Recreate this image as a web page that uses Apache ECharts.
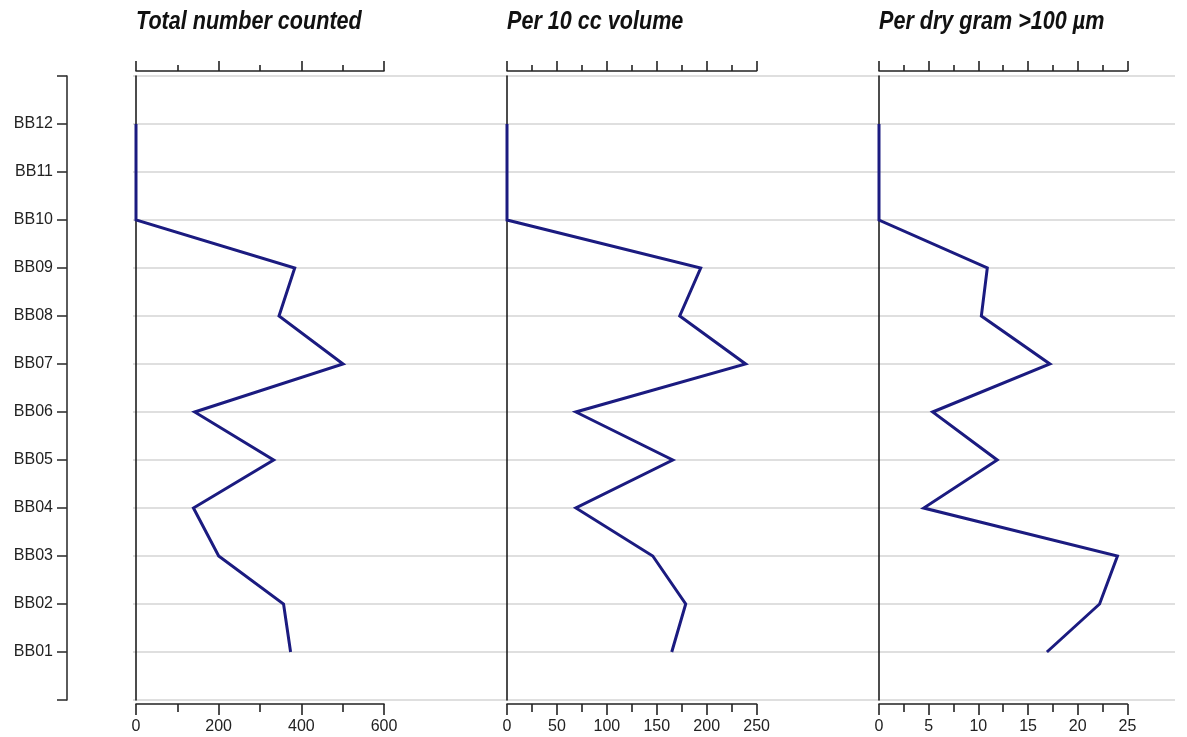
<!DOCTYPE html>
<html>
<head>
<meta charset="utf-8">
<script src="https://cdn.jsdelivr.net/npm/echarts@6/dist/echarts.min.js"></script>
<style>
  html, body { margin: 0; padding: 0; background: #fff; }
  #chart { width: 1187px; height: 737px; }
</style>
</head>
<body>
<div id="chart"></div>
<script>
// Samples (bottom to top)
const samples = ['BB01','BB02','BB03','BB04','BB05','BB06','BB07','BB08','BB09','BB10','BB11','BB12'];
// Panel titles
const titles = ['Total number counted', 'Per 10 cc volume', 'Per dry gram >100 \u00b5m'];
// Series values, BB01..BB12
const totalCounted = [374, 357, 200, 139, 333, 142, 501, 346, 384, 0, 0, 0];
const per10cc      = [165, 179, 146, 69, 166, 69, 239, 173, 194, 0, 0, 0];
const perDryGram   = [16.9, 22.2, 24.0, 4.5, 11.9, 5.4, 17.2, 10.3, 10.9, 0, 0, 0];
// Axis scales
const axisMax      = [600, 250, 25];
const axisInterval = [200, 50, 5];

const cats = [''].concat(samples).concat(['']);
const values = [totalCounted, per10cc, perDryGram];

const TOP = 76, H = 624;
const panelLeft = [136, 507, 879];
const panelWidth = [248, 249.6, 248.4];
const FONT = "'Liberation Sans', Arial, sans-serif";
const lineColor = '#1b1b80';

const grids = [{ left: 133, right: 12, top: TOP, height: H }];
panelLeft.forEach((l, i) => grids.push({ left: l, width: panelWidth[i], top: TOP, height: H }));

const xAxes = [{ gridIndex: 0, type: 'value', show: false, min: 0, max: 1 }];
const yAxes = [{
  gridIndex: 0, type: 'category', data: cats, boundaryGap: false, position: 'left', offset: 66,
  axisLine: { show: true, onZero: false, lineStyle: { color: '#333', width: 1.6 } },
  axisTick: { show: true, inside: false, length: 10, interval: 0, lineStyle: { color: '#333', width: 1.6 } },
  axisLabel: { show: true, interval: 0, margin: 14, color: '#222', fontSize: 16, fontFamily: FONT },
  splitLine: { show: true, interval: 0, lineStyle: { color: '#d4d4d4', width: 1.5 } }
}];
const series = [];
const graphics = [];

for (let i = 0; i < 3; i++) {
  const g = i + 1;
  const tickStyle = { color: '#222', width: 1.6 };
  // bottom axis
  xAxes.push({
    gridIndex: g, type: 'value', position: 'bottom', min: 0, max: axisMax[i], interval: axisInterval[i], offset: 4,
    axisLine: { show: true, onZero: false, lineStyle: tickStyle },
    axisTick: { show: true, length: 11, lineStyle: tickStyle },
    minorTick: { show: true, splitNumber: 2, length: 8, lineStyle: tickStyle },
    axisLabel: { show: true, margin: 15, color: '#222', fontSize: 16, fontFamily: FONT },
    splitLine: { show: false }
  });
  // top axis
  xAxes.push({
    gridIndex: g, type: 'value', position: 'top', min: 0, max: axisMax[i], interval: axisInterval[i], offset: 5,
    axisLine: { show: true, onZero: false, lineStyle: tickStyle },
    axisTick: { show: true, length: 10, lineStyle: tickStyle },
    minorTick: { show: true, splitNumber: 2, length: 6, lineStyle: tickStyle },
    axisLabel: { show: false },
    splitLine: { show: false }
  });
  yAxes.push({
    gridIndex: g, type: 'category', data: cats, boundaryGap: false,
    axisLine: { show: true, onZero: false, lineStyle: { color: '#111', width: 1.5 } },
    axisTick: { show: false }, axisLabel: { show: false }, splitLine: { show: false }
  });
  series.push({
    type: 'line', xAxisIndex: 1 + i * 2, yAxisIndex: g,
    data: samples.map((s, k) => [values[i][k], s]),
    symbol: 'none', silent: true,
    lineStyle: { color: lineColor, width: 3, join: 'miter' }
  });
  // condensed bold-italic title (scaled horizontally to mimic a narrow face)
  graphics.push({
    type: 'text', x: panelLeft[i], y: 22, scaleX: 0.83, scaleY: 1, silent: true,
    style: {
      text: titles[i], fill: '#111',
      font: "italic bold 26px 'Liberation Sans', Arial, sans-serif",
      textVerticalAlign: 'middle', verticalAlign: 'middle', align: 'left'
    }
  });
}

const chart = echarts.init(document.getElementById('chart'), null, { renderer: 'canvas' });
chart.setOption({
  animation: false,
  backgroundColor: '#fff',
  grid: grids,
  xAxis: xAxes,
  yAxis: yAxes,
  series: series,
  graphic: graphics
});
</script>
</body>
</html>
